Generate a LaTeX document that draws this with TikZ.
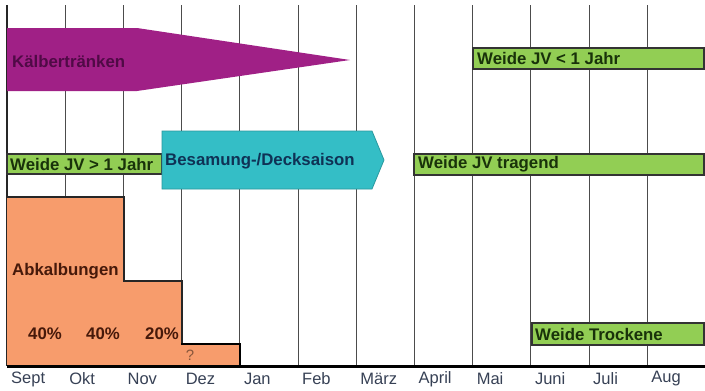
\documentclass[tikz,border=0pt]{standalone}
\usepackage{fontspec}
\setmainfont{Liberation Sans}
\usepackage{xcolor}
\usetikzlibrary{positioning}

\definecolor{kalbcol}{RGB}{160,32,134}
\definecolor{kalbtext}{RGB}{80,10,70}
\definecolor{weidecol}{RGB}{146,206,84}
\definecolor{weidetext}{RGB}{25,50,10}
\definecolor{besamcol}{RGB}{52,190,198}
\definecolor{besamtext}{RGB}{15,50,85}
\definecolor{abkalbcol}{RGB}{247,156,108}
\definecolor{abkalbtext}{RGB}{70,25,10}
\definecolor{monthtext}{RGB}{55,65,85}

\tikzset{
    weidebar/.style={fill=weidecol, draw=black!80, line width=1.2pt},
    lbl/.style={inner sep=0pt, anchor=west, font=\fontsize{16.8}{18}\selectfont\bfseries},
    month/.style={inner sep=0pt, anchor=west, text=monthtext, font=\fontsize{16.5}{18}\selectfont}
}

\begin{document}
\begin{tikzpicture}[x=1pt,y=-1pt]
    \useasboundingbox (0,0) rectangle (705,391);
    \fill[white] (0,0) rectangle (705,391);

    % Month grid
    \foreach \i in {1,...,11} {
        \draw[gray!60!black, line width=0.9pt] ({7+58.2*\i},5) -- ({7+58.2*\i},366);
    }
    \draw[black!85, line width=1.6pt] (7,5) -- (7,366);

    % Month labels
    \foreach \m [count=\i from 0] in {Sept,Okt,Nov,Dez,Jan,Feb,März,April,Mai,Juni,Juli,Aug} {
        \node[month] (m\i) at ({11+58.2*\i},379) {\m};
    }

    % Kaelbertraenken
    \fill[kalbcol] (7,28) -- (137,28) -- (350,60) -- (137,91) -- (7,91) -- cycle;
    \node[lbl, text=kalbtext] (kalb) at (12,61) {Kälbertränken};

    % Weide bars
    \draw[weidebar] (7,154) rectangle (162,174);
    \node[lbl, text=weidetext] (jvgross) at (10,164) {Weide JV > 1 Jahr};
    \draw[weidebar] (473,48) rectangle (704,69);
    \node[lbl, text=weidetext] (jvklein) at (477,58.5) {Weide JV < 1 Jahr};
    \draw[weidebar] (414,154) rectangle (704,175);
    \node[lbl, text=weidetext] (jvtragend) at (418,164.5) {Weide JV tragend};
    \draw[weidebar] (532,323) rectangle (704,345);
    \node[lbl, text=weidetext] (trockene) at (535,334) {Weide Trockene};

    % Besamung
    \filldraw[fill=besamcol, draw=besamcol!80!black, line width=0.8pt]
        (162,131) -- (372,131) -- (384,160) -- (372,189) -- (162,189) -- cycle;
    \node[lbl, text=besamtext] (besam) at (165,161) {Besamung-/Decksaison};

    % Abkalbungen
    \fill[abkalbcol] (7,197) -- (124,197) -- (124,281) -- (182,281) -- (182,344)
        -- (240,344) -- (240,366) -- (7,366) -- cycle;
    \draw[black!85, line width=1.3pt] (7,197) -- (124,197) -- (124,281) -- (182,281) -- (182,344);
    \draw[black, line width=2.5pt] (181,344) -- (240,344) -- (240,366);
    \node[lbl, text=abkalbtext] (abkalb) at (12,271) {Abkalbungen};
    \node[lbl, text=abkalbtext] (p1) at (28,334) {40\%};
    \node[lbl, text=abkalbtext] (p2) at (86,334) {40\%};
    \node[lbl, text=abkalbtext] (p3) at (145,334) {20\%};
    \node[inner sep=0pt, text=abkalbcol!55!black, font=\fontsize{15}{16}\selectfont] (frage) at (190,355) {?};

    % Time axis
    \draw[black, line width=3pt] (7,366) -- (705,366);
\end{tikzpicture}
\end{document}
